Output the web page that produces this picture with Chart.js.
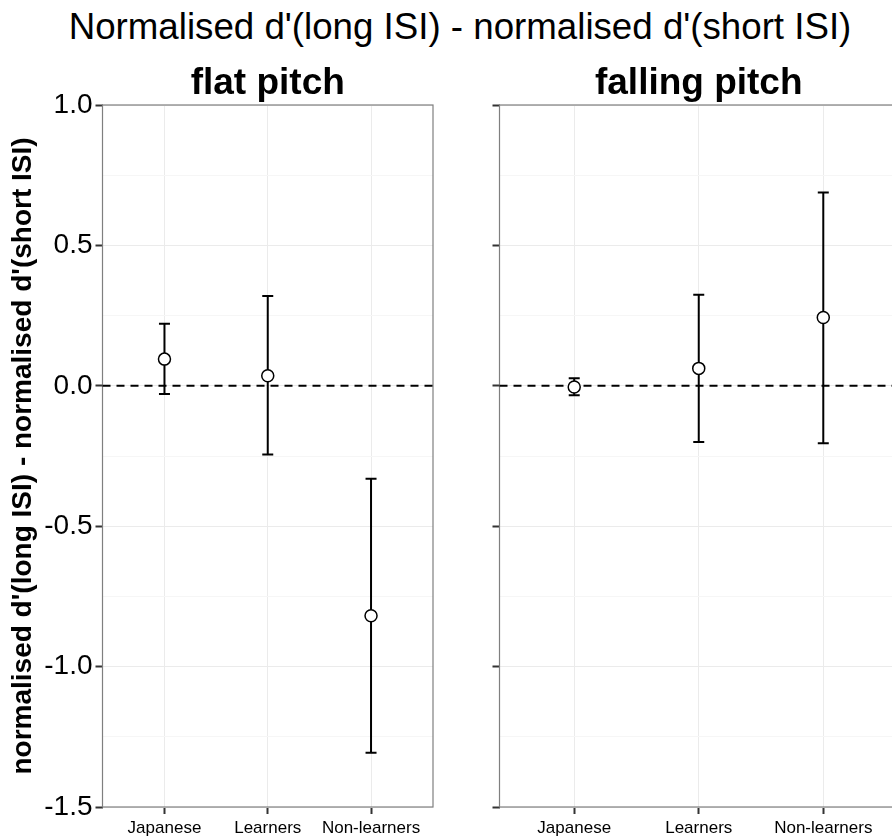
<!DOCTYPE html>
<html>
<head>
<meta charset="utf-8">
<script src="https://cdn.jsdelivr.net/npm/chart.js@4.4.1/dist/chart.umd.min.js"></script>
<style>
  html, body { margin: 0; padding: 0; background: #fff; width: 892px; height: 836px; overflow: hidden; position: relative; }
  #mainTitle {
    position: absolute; left: 0; top: 8.6px; width: 920px; text-align: center;
    font: 36.7px "Liberation Sans", Arial, Helvetica, sans-serif; line-height: 36px;
    color: #000; white-space: nowrap;
  }
  canvas { position: absolute; top: 0; }
  #flat { left: 0; }
  #falling { left: 466px; }
</style>
</head>
<body>
<div id="mainTitle">Normalised d'(long ISI) - normalised d'(short ISI)</div>
<canvas id="flat" width="470" height="836"></canvas>
<canvas id="falling" width="440" height="836"></canvas>
<script>
// ---------------- DATA ----------------
const categories = ["Japanese", "Learners", "Non-learners"];
const yMajorTicks = [-1.5, -1.0, -0.5, 0.0, 0.5, 1.0];
const yMinorTicks = [-1.25, -0.75, -0.25, 0.25, 0.75];
const zeroLine = 0;
const yTitle = "normalised d'(long ISI) - normalised d'(short ISI)";

// flat pitch: mean and error bar ends
const flatMean  = [0.095, 0.036, -0.819];
const flatLower = [-0.029, -0.245, -1.307];
const flatUpper = [0.221, 0.320, -0.331];

// falling pitch
const fallingMean  = [-0.004, 0.062, 0.243];
const fallingLower = [-0.034, -0.200, -0.205];
const fallingUpper = [0.027, 0.324, 0.688];

const FONT = '"Liberation Sans", Arial, Helvetica, sans-serif';
Chart.defaults.font.family = FONT;

// ---------------- PANEL DRAWING ----------------
const panelDecor = {
  id: "panelDecor",
  beforeDatasetsDraw(chart, args, opts) {
    const { ctx, chartArea: a, scales: { x, y } } = chart;
    ctx.save();

    // panel frame
    ctx.strokeStyle = "#7f7f7f";
    ctx.lineWidth = 1.2;
    ctx.strokeRect(a.left, a.top, a.right - a.left, a.bottom - a.top);

    // dashed reference line
    const yz = y.getPixelForValue(zeroLine);
    ctx.strokeStyle = "#000";
    ctx.lineWidth = 2;
    ctx.setLineDash([8, 6]);
    ctx.beginPath();
    ctx.moveTo(a.left, yz);
    ctx.lineTo(a.right, yz);
    ctx.stroke();
    ctx.setLineDash([]);

    // error bars
    ctx.lineWidth = 2;
    opts.lower.forEach((lo, i) => {
      const px = x.getPixelForValue(i + 1);
      const y1 = y.getPixelForValue(lo);
      const y2 = y.getPixelForValue(opts.upper[i]);
      ctx.beginPath();
      ctx.moveTo(px, y1);
      ctx.lineTo(px, y2);
      ctx.moveTo(px - 5.5, y1);
      ctx.lineTo(px + 5.5, y1);
      ctx.moveTo(px - 5.5, y2);
      ctx.lineTo(px + 5.5, y2);
      ctx.stroke();
    });
    ctx.restore();
  },
  afterDraw(chart, args, opts) {
    const { ctx, chartArea: a } = chart;
    ctx.save();
    ctx.fillStyle = "#000";
    ctx.font = "bold 37px " + FONT;
    ctx.textAlign = "center";
    ctx.textBaseline = "alphabetic";
    ctx.fillText(opts.title, (a.left + a.right) / 2, a.top - 10.7);
    ctx.restore();
  }
};

function makePanel(id, title, mean, lower, upper, yAxisWidth, rightPad, showLabels) {
  return new Chart(document.getElementById(id), {
    type: "scatter",
    data: {
      datasets: [{
        data: mean.map((v, i) => ({ x: i + 1, y: v })),
        pointRadius: 6,
        pointBorderWidth: 1.5,
        pointBackgroundColor: "#fff",
        pointBorderColor: "#000"
      }]
    },
    options: {
      responsive: false,
      animation: false,
      devicePixelRatio: 1,
      events: [],
      layout: { padding: { top: 105, right: rightPad, bottom: 0, left: 0 } },
      plugins: {
        legend: { display: false },
        tooltip: { enabled: false },
        panelDecor: { title, lower, upper }
      },
      scales: {
        x: {
          type: "linear",
          min: 0.4,
          max: 3.6,
          afterBuildTicks: s => { s.ticks = categories.map((c, i) => ({ value: i + 1 })); },
          afterFit: s => { s.height = 29; },
          ticks: {
            autoSkip: false,
            maxRotation: 0,
            padding: 4,
            color: "#000",
            font: { size: 17 },
            callback: v => categories[v - 1]
          },
          grid: { color: "#ebebeb", lineWidth: 1, tickColor: "#333", tickLength: 7, tickWidth: 2 },
          border: { display: false }
        },
        y: {
          min: -1.5,
          max: 1.0,
          afterBuildTicks: s => {
            s.ticks = yMajorTicks.concat(yMinorTicks)
              .sort((p, q) => p - q)
              .map(v => ({ value: v, isMajor: yMajorTicks.includes(v) }));
          },
          afterFit: s => { s.width = yAxisWidth; },
          ticks: {
            display: showLabels,
            autoSkip: false,
            padding: 3,
            color: "#000",
            font: { size: 28 },
            callback: v => (yMajorTicks.includes(v) ? v.toFixed(1) : "")
          },
          grid: {
            color: c => (c.tick && c.tick.isMajor ? "#ebebeb" : "#f6f6f6"),
            tickColor: c => (c.tick && c.tick.isMajor ? "#333" : "rgba(0,0,0,0)"),
            lineWidth: 1,
            tickLength: 7,
            tickWidth: 2
          },
          border: { display: false },
          title: {
            display: showLabels,
            text: yTitle,
            color: "#000",
            font: { size: 28, weight: "bold" },
            padding: { top: 6, bottom: 0 }
          }
        }
      }
    },
    plugins: [panelDecor]
  });
}

makePanel("flat", "flat pitch", flatMean, flatLower, flatUpper, 102.5, 37, true);
makePanel("falling", "falling pitch", fallingMean, fallingLower, fallingUpper, 33.5, 8, false);
</script>
</body>
</html>
